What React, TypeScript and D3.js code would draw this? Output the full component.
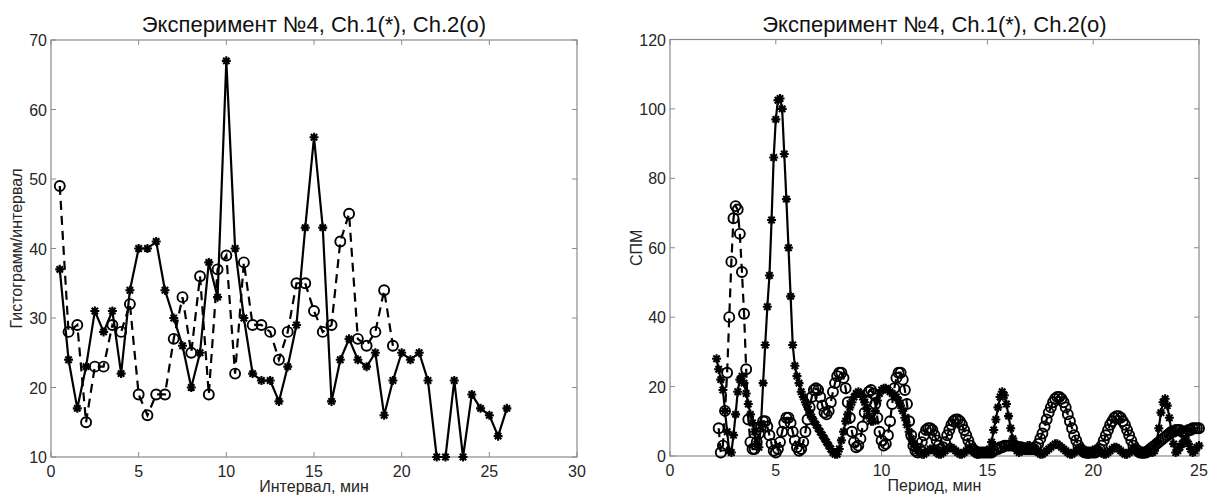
import React from 'react';
import * as d3 from 'd3';

// ---------- Left panel: histogram per interval ----------
const HIST_X_CH1 = [0.5, 1, 1.5, 2, 2.5, 3, 3.5, 4, 4.5, 5, 5.5, 6, 6.5, 7, 7.5, 8, 8.5, 9, 9.5, 10, 10.5, 11, 11.5, 12, 12.5, 13, 13.5, 14, 14.5, 15, 15.5, 16, 16.5, 17, 17.5, 18, 18.5, 19, 19.5, 20, 20.5, 21, 21.5, 22, 22.5, 23, 23.5, 24, 24.5, 25, 25.5, 26];
const HIST_CH1 = [37, 24, 17, 23, 31, 28, 31, 22, 34, 40, 40, 41, 34, 30, 26, 20, 25, 38, 33, 67, 40, 30, 22, 21, 21, 18, 23, 29, 43, 56, 43, 18, 24, 27, 24, 23, 25, 16, 21, 25, 24, 25, 21, 10, 10, 21, 10, 19, 17, 16, 13, 17];
const HIST_X_CH2 = [0.5, 1, 1.5, 2, 2.5, 3, 3.5, 4, 4.5, 5, 5.5, 6, 6.5, 7, 7.5, 8, 8.5, 9, 9.5, 10, 10.5, 11, 11.5, 12, 12.5, 13, 13.5, 14, 14.5, 15, 15.5, 16, 16.5, 17, 17.5, 18, 18.5, 19, 19.5];
const HIST_CH2 = [49, 28, 29, 15, 23, 23, 29, 28, 32, 19, 16, 19, 19, 27, 33, 25, 36, 19, 37, 39, 22, 38, 29, 29, 28, 24, 28, 35, 35, 31, 28, 29, 41, 45, 27, 26, 28, 34, 26];
const HIST_X_TICKS = [0, 5, 10, 15, 20, 25, 30];
const HIST_Y_TICKS = [10, 20, 30, 40, 50, 60, 70];

// ---------- Right panel: spectral density vs period ----------
const SPM_PERIOD_START = 2.2;
const SPM_PERIOD_STEP = 0.1;
const SPM_CH1 = [
  28, 25, 22, 19, 13, 7, 1.5, 1, // 2.2 - 2.9
  6, 12, 18.5, 22, 23, 21, 18, 15, 12, 9.5, // 3.0
  7, 3.5, 2.5, 9, 21, 32, 43, 52, 68, 86, // 4.0
  97, 102.5, 103, 100, 87, 74, 60, 46, 32, 26, // 5.0
  23, 21, 18.5, 17, 15.5, 14.2, 12.5, 11.2, 10, 9, // 6.0
  8, 7, 6, 5, 4, 3, 2, 1, 0.5, 0.5, // 7.0
  2, 4.5, 7, 10, 12, 14, 15.5, 17, 18, 18.5, // 8.0
  18, 17, 15.5, 13.5, 11.5, 10, 10, 13, 16, 18, // 9.0
  19, 19.5, 19.5, 19, 18.5, 18, 17.5, 17, 16, 14.5, // 10.0
  13, 11, 9, 7, 5, 3.5, 2.5, 1.5, 1, 0.5, // 11.0
  0.5, 1, 1.5, 2, 2, 1.5, 1, 0.5, 0.5, 1, // 12.0
  1.5, 2, 2.5, 2.5, 2, 1.5, 1, 0.5, 0.5, 1, // 13.0
  1.5, 2, 2, 1.5, 1, 0.5, 0.5, 1, 1, 1, // 14.0
  1, 2, 4, 7.5, 10.5, 14, 17, 18.5, 17.5, 15, // 15.0
  11.5, 8, 5, 3, 1.5, 1, 1.5, 2, 2.5, 3, // 16.0
  3, 2.5, 2, 1.5, 1, 0.5, 0.5, 1, 1.5, 2, // 17.0
  2.5, 3, 3.5, 3.5, 3, 2.5, 2, 1.5, 1, 0.5, // 18.0
  0.5, 1, 1.5, 2, 2, 1.5, 1, 0.5, 0.5, 1, // 19.0
  1.5, 2, 2, 1.5, 1, 0.5, 0.5, 1, 1.5, 2, // 20.0
  2.5, 2.5, 2, 1.5, 1, 0.5, 0.5, 1, 1.5, 2, // 21.0
  2, 1.5, 1, 0.5, 0.5, 1, 1, 1, 1, 1.5, // 22.0
  4, 8, 12.5, 15.5, 16.5, 14.5, 11, 7, 3.5, 1, // 23.0
  1.5, 2.5, 3.5, 4.5, 4.5, 3.5, 2, 1, 1.5, 2.5, // 24.0
  3, // 25.0
];
const SPM_CH2: (number | null)[] = [
  null, 8, 1, 3, 13, 24, 40, 56, // 2.2 - 2.9
  68.5, 72, 71, 64, 53, 41, 25, 10.5, 4, 2, // 3.0
  2, 4, 6.5, 8.5, 10, 10, 8.5, 6, 3.5, 1.5, // 4.0
  1, 2, 4, 7, 9.5, 11, 11, 9.5, 7, 4.5, // 5.0
  2.5, 1.5, 2, 4, 7, 10.5, 14, 17, 19, 19.5, // 6.0
  19, 17, 14.5, 12.5, 12, 13, 15.5, 18.5, 21, 23, // 7.0
  24, 24, 22.5, 19.5, 15.5, 11, 7, 4, 2.5, 3, // 8.0
  5, 8.5, 12.5, 16, 18.5, 19, 18, 15, 11, 7, // 9.0
  4.5, 3, 3.5, 6, 10, 15, 19.5, 22.5, 24, 24, // 10.0
  22, 19, 15, 10, 6, 3, 1.5, 1, 2, 4, // 11.0
  6, 7.5, 8, 8, 7.5, 6, 4.5, 3, 2, 2.5, // 12.0
  4, 6, 7.5, 9, 10, 10.5, 10.5, 10, 9, 7.5, // 13.0
  6, 4.5, 3, 2, 1.5, 1, 1, 1, 1, 1, // 14.0
  1, 1, 1, 1.5, 2, 2, 2.5, 2.5, 3, 3, // 15.0
  3, 3, 3, 3, 2.5, 2.5, 2.5, 2, 2, 2, // 16.0
  2, 2, 2, 2.5, 3.5, 5, 6.5, 8.5, 10.5, 12.5, // 17.0
  14, 15.5, 16.5, 17, 17, 16.5, 15.5, 14, 12, 10, // 18.0
  8, 6, 4.5, 3, 2, 1.5, 1, 1, 1, 1, // 19.0
  1, 1, 1.5, 2, 3, 4.5, 6, 7.5, 9, 10, // 20.0
  11, 11.5, 11.5, 11, 10, 9, 7.5, 6, 4.5, 3, // 21.0
  2, 1.5, 1, 1, 1, 1, 1.5, 2, 2.5, 3, // 22.0
  3.5, 4, 4.5, 5, 5.5, 6, 6.5, 7, 7, 7.5, // 23.0
  7.5, 7.5, 7, 7, 7, 7.5, 7.5, 8, 8, 8, // 24.0
  8, // 25.0
];
const SPM_X_TICKS = [0, 5, 10, 15, 20, 25];
const SPM_Y_TICKS = [0, 20, 40, 60, 80, 100, 120];

const TITLE = 'Эксперимент №4, Ch.1(*), Ch.2(o)';
const FONT = "'Liberation Sans', Arial, Helvetica, sans-serif";
const AXIS_COLOR = '#8a8a8a';
const TEXT_COLOR = '#262626';

type Pt = { x: number; y: number | null };

const STAR = 'M-4.5,0L4.5,0M0,-4.5L0,4.5M-3.2,-3.2L3.2,3.2M-3.2,3.2L3.2,-3.2';

function Panel(props: {
  left: number; right: number; top: number; bottom: number;
  xDomain: [number, number]; yDomain: [number, number];
  xTicks: number[]; yTicks: number[];
  xLabel: string; yLabel: string; yLabelX: number;
  ch1: Pt[]; ch2: Pt[];
  markerR: number;
}) {
  const { left, right, top, bottom } = props;
  const xs = d3.scaleLinear().domain(props.xDomain).range([left, right]);
  const ys = d3.scaleLinear().domain(props.yDomain).range([bottom, top]);
  const line = d3.line<Pt>()
    .defined(d => d.y != null)
    .x(d => xs(d.x))
    .y(d => ys(d.y as number));
  const tl = 5;
  return (
    <g>
      <text x={(left + right) / 2} y={32} textAnchor="middle" fontSize={22} fill="#111" fontFamily={FONT}>{TITLE}</text>
      {props.xTicks.map(t => (
        <g key={'x' + t}>
          <line x1={xs(t)} x2={xs(t)} y1={bottom} y2={bottom - tl} stroke={AXIS_COLOR} />
          <line x1={xs(t)} x2={xs(t)} y1={top} y2={top + tl} stroke={AXIS_COLOR} />
          <text x={xs(t)} y={bottom + 20} textAnchor="middle" fontSize={16} fill={TEXT_COLOR} fontFamily={FONT}>{t}</text>
        </g>
      ))}
      {props.yTicks.map(t => (
        <g key={'y' + t}>
          <line x1={left} x2={left + tl} y1={ys(t)} y2={ys(t)} stroke={AXIS_COLOR} />
          <line x1={right} x2={right - tl} y1={ys(t)} y2={ys(t)} stroke={AXIS_COLOR} />
          <text x={left - 4} y={ys(t) + 6} textAnchor="end" fontSize={16} fill={TEXT_COLOR} fontFamily={FONT}>{t}</text>
        </g>
      ))}
      <rect x={left} y={top} width={right - left} height={bottom - top} fill="none" stroke={AXIS_COLOR} strokeWidth={1.2} />
      <text x={(left + right) / 2} y={bottom + 35} textAnchor="middle" fontSize={16} fill={TEXT_COLOR} fontFamily={FONT}>{props.xLabel}</text>
      <text transform={`translate(${props.yLabelX},${(top + bottom) / 2}) rotate(-90)`} textAnchor="middle" fontSize={16} fill={TEXT_COLOR} fontFamily={FONT}>{props.yLabel}</text>
      <path d={line(props.ch1) || ''} fill="none" stroke="#000" strokeWidth={2.2} strokeLinejoin="round" />
      {props.ch1.filter(d => d.y != null).map((d, i) => (
        <path key={'s' + i} d={STAR} transform={`translate(${xs(d.x)},${ys(d.y as number)})`} stroke="#000" strokeWidth={2.1} fill="none" />
      ))}
      <path d={line(props.ch2) || ''} fill="none" stroke="#000" strokeWidth={2.2} strokeDasharray="9,6" />
      {props.ch2.filter(d => d.y != null).map((d, i) => (
        <circle key={'c' + i} cx={xs(d.x)} cy={ys(d.y as number)} r={props.markerR} stroke="#000" strokeWidth={1.9} fill="none" />
      ))}
    </g>
  );
}

export default function App() {
  const hist1: Pt[] = HIST_X_CH1.map((x, i) => ({ x, y: HIST_CH1[i] }));
  const hist2: Pt[] = HIST_X_CH2.map((x, i) => ({ x, y: HIST_CH2[i] }));
  const spm1: Pt[] = SPM_CH1.map((v, i) => ({ x: SPM_PERIOD_START + i * SPM_PERIOD_STEP, y: v }));
  const spm2: Pt[] = SPM_CH2.map((v, i) => ({ x: SPM_PERIOD_START + i * SPM_PERIOD_STEP, y: v }));
  return (
    <svg width={1215} height={495} style={{ position: 'absolute', left: 0, top: 0, background: '#fff' }}>
      <rect x={0} y={0} width={1215} height={495} fill="#fff" />
      <Panel left={51} right={577} top={40} bottom={457}
        xDomain={[0, 30]} yDomain={[10, 70]}
        xTicks={HIST_X_TICKS} yTicks={HIST_Y_TICKS}
        xLabel="Интервал, мин" yLabel="Гистограмм/интервал" yLabelX={22}
        ch1={hist1} ch2={hist2} markerR={5} />
      <Panel left={670} right={1199} top={39.5} bottom={456}
        xDomain={[0, 25]} yDomain={[0, 120]}
        xTicks={SPM_X_TICKS} yTicks={SPM_Y_TICKS}
        xLabel="Период, мин" yLabel="СПМ" yLabelX={642}
        ch1={spm1} ch2={spm2} markerR={5} />
    </svg>
  );
}
